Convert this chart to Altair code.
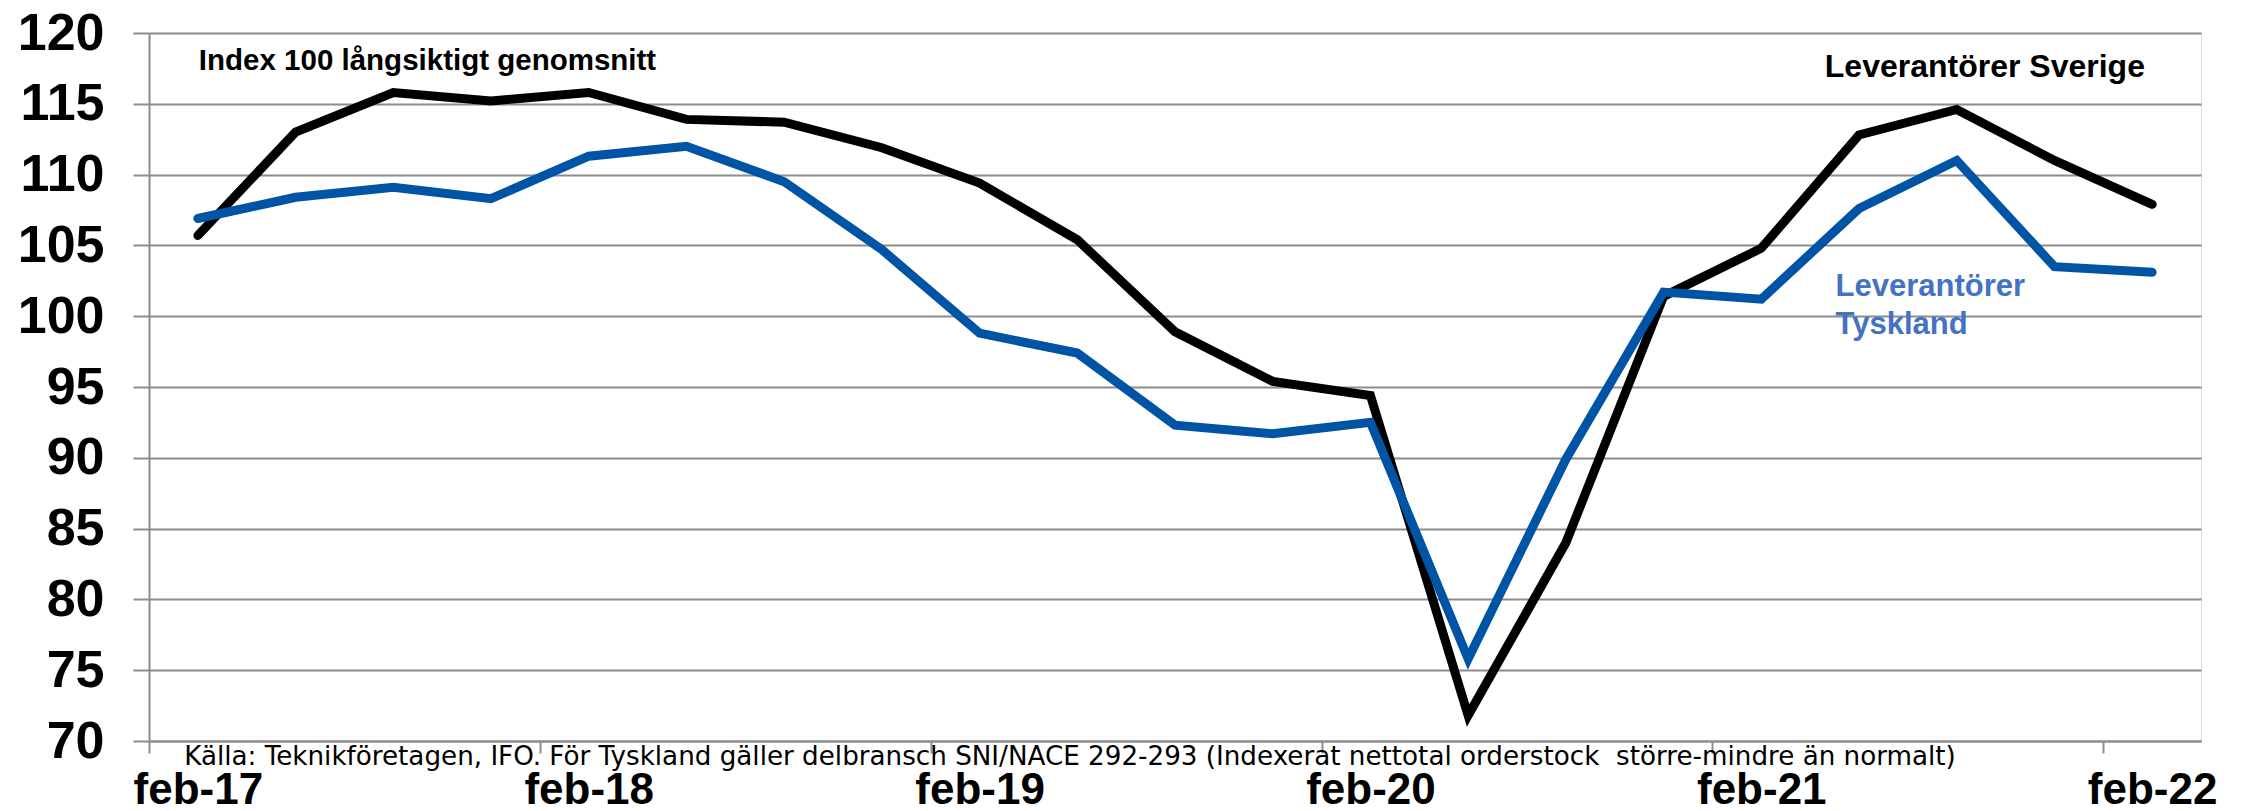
import json
import altair as alt
import pandas as pd

# ---- data ----
quarters = ["feb-17", "maj-17", "aug-17", "nov-17",
            "feb-18", "maj-18", "aug-18", "nov-18",
            "feb-19", "maj-19", "aug-19", "nov-19",
            "feb-20", "maj-20", "aug-20", "nov-20",
            "feb-21", "maj-21", "aug-21", "nov-21",
            "feb-22"]
sverige = [105.7, 113.0, 115.8, 115.2, 115.8, 113.9, 113.7, 111.9, 109.4, 105.4,
           98.9, 95.4, 94.4, 71.8, 84.0, 101.4, 104.8, 112.8, 114.6, 111.0, 107.9]
tyskland = [106.9, 108.4, 109.1, 108.3, 111.3, 112.0, 109.5, 104.7, 98.8, 97.4,
            92.3, 91.7, 92.5, 75.8, 89.9, 101.7, 101.2, 107.6, 111.0, 103.5, 103.1]
series_names = ["Leverantörer Sverige", "Leverantörer Tyskland"]
series_colors = ["#000000", "#0054A6"]
tick_labels = ["feb-17", "feb-18", "feb-19", "feb-20", "feb-21", "feb-22"]
y_ticks = [70, 75, 80, 85, 90, 95, 100, 105, 110, 115, 120]
source_text = ("Källa: Teknikföretagen, IFO. För Tyskland gäller delbransch SNI/NACE 292-293 "
               "(Indexerat nettotal orderstock \u00a0större-mindre än normalt)")

GRAY = "#8c8c8c"
FONT = "Liberation Sans"

rows = []
for i, q in enumerate(quarters):
    rows.append({"i": i, "q": q, "serie": series_names[0], "v": sverige[i]})
    rows.append({"i": i, "q": q, "serie": series_names[1], "v": tyskland[i]})
df = pd.DataFrame(rows)

label_pos = [quarters.index(t) for t in tick_labels]
boundaries = [p - 0.5 for p in label_pos]
axis_values = sorted(label_pos + boundaries)
label_arr = [q if q in tick_labels else "" for q in quarters]
label_expr = f"datum.value % 1 === 0 ? {json.dumps(label_arr)}[datum.value] : ''"

x_enc = alt.X(
    "i:Q",
    scale=alt.Scale(domain=[-0.5, len(quarters) - 0.5], nice=False, zero=False),
    axis=alt.Axis(
        values=axis_values, labelExpr=label_expr, title=None, grid=False,
        tickSize=12, tickWidth=2, tickColor=GRAY,
        tickOpacity={"condition": {"test": "datum.value % 1 === 0", "value": 0}, "value": 1},
        domainColor=GRAY, domainWidth=2,
        labelFont=FONT, labelFontSize=44, labelFontWeight="bold", labelColor="black",
        labelPadding=15, labelFlush=False, labelOverlap=False, labelBound=False,
    ),
)
y_enc = alt.Y(
    "v:Q",
    scale=alt.Scale(domain=[70, 120], nice=False, zero=False),
    axis=alt.Axis(
        values=y_ticks, title=None, grid=True, gridColor=GRAY, gridWidth=2,
        tickSize=16, tickWidth=2, tickColor=GRAY,
        domainColor=GRAY, domainWidth=2,
        labelFont=FONT, labelFontSize=52, labelFontWeight="bold", labelColor="black",
        labelPadding=29, labelFlush=False, labelOverlap=False,
    ),
)

lines = alt.Chart(df).mark_line(strokeWidth=9, strokeCap="round").encode(
    x=x_enc,
    y=y_enc,
    color=alt.Color("serie:N", scale=alt.Scale(domain=series_names, range=series_colors), legend=None),
)

ann = pd.DataFrame([
    {"t": "Index 100 långsiktigt genomsnitt", "x": 0.01, "y": 117.4, "c": "#000000", "s": 29.5},
    {"t": "Leverantörer Sverige", "x": 16.65, "y": 116.9, "c": "#000000", "s": 32},
    {"t": "Leverantörer", "x": 16.76, "y": 101.4, "c": "#4472C4", "s": 31},
    {"t": "Tyskland", "x": 16.76, "y": 98.75, "c": "#4472C4", "s": 31},
])

texts = []
for _, r in ann.iterrows():
    texts.append(
        alt.Chart(pd.DataFrame([r])).mark_text(
            align="left", baseline="alphabetic", font=FONT, fontWeight="bold",
            fontSize=float(r["s"]), color=r["c"],
        ).encode(x="x:Q", y="y:Q", text="t:N")
    )

src = alt.Chart(pd.DataFrame([{"t": source_text, "x": -0.14, "y": 68.34}])).mark_text(
    align="left", baseline="alphabetic", font="DejaVu Sans", fontSize=26.2, color="#000000",
).encode(x="x:Q", y="y:Q", text="t:N")

chart = alt.layer(lines, *texts, src).properties(
    width=2052, height=708,
    autosize=alt.AutoSizeParams(type="none"),
    padding={"left": 141, "top": 25, "right": 35, "bottom": 70},
).configure_view(stroke=None).configure(background="white")

chart.save("out.html", embed_options={"renderer": "svg", "actions": False})
